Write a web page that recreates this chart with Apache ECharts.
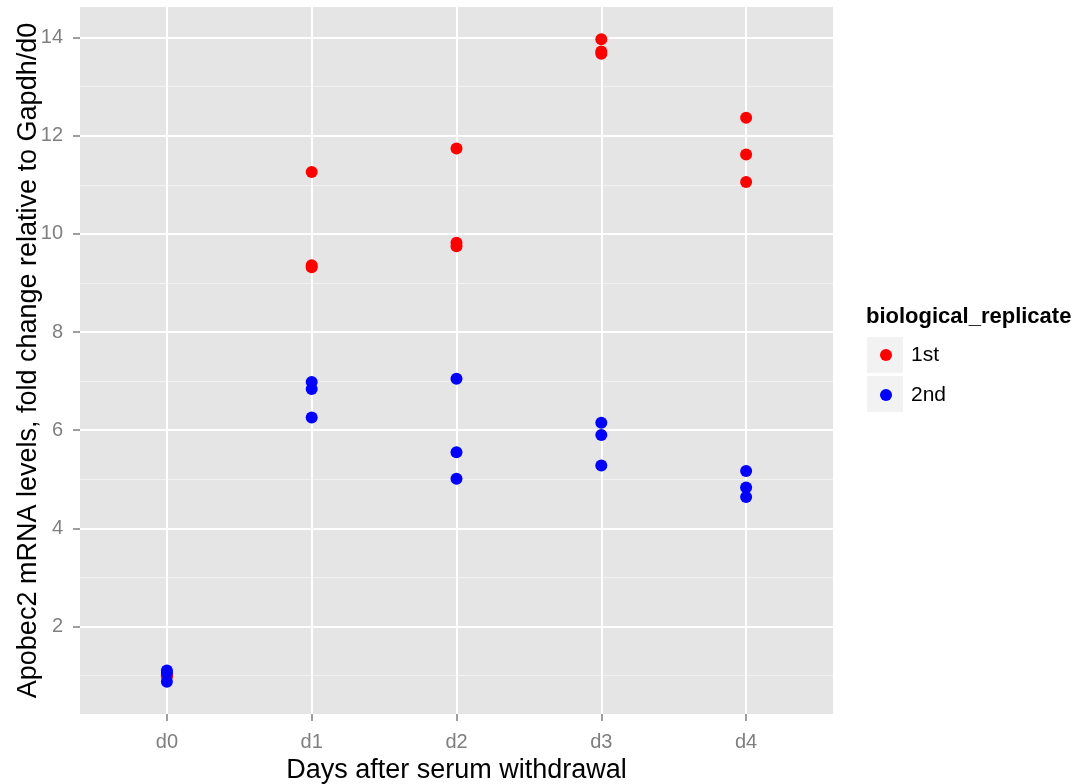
<!DOCTYPE html>
<html>
<head>
<meta charset="utf-8">
<script src="https://cdn.jsdelivr.net/npm/echarts@6/dist/echarts.min.js"></script>
<style>
  html, body { margin: 0; padding: 0; background: #fff; }
  #chart { width: 1081px; height: 784px; }
</style>
</head>
<body>
<div id="chart"></div>
<script>
// days on the x axis
const days = ['d0', 'd1', 'd2', 'd3', 'd4'];
// fold change values, three technical points per day
const rep1st = [
  [1.00, 0.98, 1.00],
  [11.26, 9.36, 9.32],
  [11.74, 9.82, 9.75],
  [13.97, 13.72, 13.67],
  [12.37, 11.62, 11.06]
];
const rep2nd = [
  [1.10, 1.05, 0.87],
  [6.98, 6.84, 6.26],
  [7.05, 5.55, 5.01],
  [6.15, 5.90, 5.28],
  [5.17, 4.83, 4.64]
];
const yTicks = [2, 4, 6, 8, 10, 12, 14];
const yMinor = [1, 3, 5, 7, 9, 11, 13];

function toPoints(rows) {
  const out = [];
  rows.forEach((vals, i) => {
    vals.forEach(v => out.push([i + 1, v]));
  });
  return out;
}

const myChart = echarts.init(document.getElementById('chart'));
const font = 'Liberation Sans, Arial, Helvetica, sans-serif';

var option = {
  backgroundColor: '#ffffff',
  animation: false,
  grid: {
    left: 80,
    right: 248,
    top: 7,
    bottom: 70,
    outerBoundsMode: 'none',
    containLabel: false,
    show: true,
    backgroundColor: '#E5E5E5',
    borderWidth: 0
  },
  xAxis: {
    type: 'value',
    min: 0.4,
    max: 5.6,
    name: 'Days after serum withdrawal',
    nameLocation: 'middle',
    nameGap: 40,
    nameTextStyle: { fontFamily: font, fontSize: 27, color: '#000' },
    axisLine: { show: false },
    axisTick: {
      show: true,
      length: 7,
      customValues: [1, 2, 3, 4, 5],
      lineStyle: { color: '#7F7F7F', width: 1.5 }
    },
    axisLabel: {
      customValues: [1, 2, 3, 4, 5],
      margin: 18,
      fontFamily: font,
      fontSize: 20,
      color: '#7F7F7F',
      formatter: v => days[Math.round(v) - 1]
    },
    splitLine: { show: true, lineStyle: { color: '#FFFFFF', width: 2 } }
  },
  yAxis: [
    {
      type: 'value',
      min: 0.215,
      max: 14.625,
      name: 'Apobec2 mRNA levels, fold change relative to Gapdh/d0',
      nameLocation: 'middle',
      nameGap: 38,
      nameMoveOverlap: false,
      nameTextStyle: { fontFamily: font, fontSize: 27, color: '#000' },
      axisLine: { show: false },
      axisTick: {
        show: true,
        length: 7,
        customValues: yTicks,
        lineStyle: { color: '#7F7F7F', width: 1.5 }
      },
      axisLabel: {
        customValues: yTicks,
        margin: 17,
        fontFamily: font,
        fontSize: 20,
        color: '#7F7F7F'
      },
      splitLine: { show: true, lineStyle: { color: '#FFFFFF', width: 2 } }
    },
    {
      type: 'value',
      min: 0.215,
      max: 14.625,
      position: 'left',
      axisLine: { show: false },
      axisTick: { show: false, customValues: yMinor },
      axisLabel: { show: false, customValues: yMinor },
      splitLine: { show: true, lineStyle: { color: '#F2F2F2', width: 1 } }
    }
  ],
  legend: {
    orient: 'vertical',
    left: 880,
    top: 344,
    padding: 0,
    itemGap: 18,
    itemWidth: 12,
    itemHeight: 12,
    icon: 'circle',
    textStyle: { fontFamily: font, fontSize: 21, lineHeight: 22, color: '#000', padding: [0, 0, 0, 14] },
    data: ['1st', '2nd']
  },
  graphic: [
    {
      type: 'text',
      left: 866,
      top: 306,
      style: { text: 'biological_replicate', font: 'bold 22px ' + font, fill: '#000' }
    },
    { type: 'rect', left: 867, top: 337, shape: { width: 36, height: 36 }, style: { fill: '#F2F2F2' }, z: -1 },
    { type: 'rect', left: 867, top: 376, shape: { width: 36, height: 36 }, style: { fill: '#F2F2F2' }, z: -1 }
  ],
  series: [
    {
      name: '1st',
      type: 'scatter',
      symbolSize: 12,
      itemStyle: { color: '#FF0000', opacity: 1 },
      data: toPoints(rep1st)
    },
    {
      name: '2nd',
      type: 'scatter',
      symbolSize: 12,
      itemStyle: { color: '#0000FF', opacity: 1 },
      data: toPoints(rep2nd)
    }
  ]
};

myChart.setOption(option);
window.addEventListener('resize', myChart.resize);
</script>
</body>
</html>
